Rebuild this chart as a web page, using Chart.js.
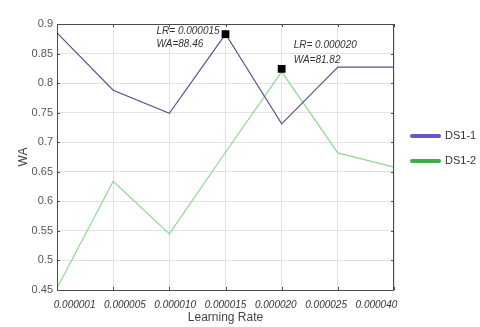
<!DOCTYPE html>
<html>
<head>
<meta charset="utf-8">
<script src="https://cdn.jsdelivr.net/npm/chart.js@4/dist/chart.umd.min.js"></script>
<style>
  html, body { margin: 0; padding: 0; background: #fff; }
  #wrap { width: 480px; height: 327px; }
</style>
</head>
<body>
<div id="wrap"><canvas id="waChart" width="480" height="327"></canvas></div>
<script>
// learning rates on the x axis
const lrLabels = ['0.000001', '0.000005', '0.000010', '0.000015', '0.000020', '0.000025', '0.000040'];
// weighted accuracy per run
const ds1_1 = [0.885, 0.788, 0.749, 0.883, 0.731, 0.827, 0.827];
const ds1_2 = [0.453, 0.634, 0.545, 0.683, 0.819, 0.682, 0.658];
// best points (black squares) and their notes
const bestPoints = [null, null, null, 0.883, 0.824, null, null];
const bestNotes = [null, null, null, ['LR= 0.000015', 'WA=88.46'], ['LR= 0.000020', 'WA=81.82'], null, null];
// y tick labels
const waTicks = [0.45, 0.5, 0.55, 0.6, 0.65, 0.7, 0.75, 0.8, 0.85, 0.9];

const FONT = "'Liberation Sans', Arial, sans-serif";

// box round the plot with small inward ticks on every side
const boxPlugin = {
    id: 'box',
    afterDatasetsDraw(chart) {
        const { ctx, chartArea: a, scales } = chart;
        ctx.save();
        ctx.strokeStyle = '#4a4a4a';
        ctx.lineWidth = 1;
        ctx.strokeRect(a.left + 0.5, a.top + 0.5, a.right - a.left - 1, a.bottom - a.top);
        ctx.beginPath();
        scales.x.ticks.forEach((t, i) => {
            const px = Math.round(scales.x.getPixelForTick(i)) + 0.5;
            ctx.moveTo(px, a.top); ctx.lineTo(px, a.top + 3);
            ctx.moveTo(px, a.bottom); ctx.lineTo(px, a.bottom - 3);
        });
        scales.y.ticks.forEach((t, i) => {
            const py = Math.round(scales.y.getPixelForTick(i)) + 0.5;
            ctx.moveTo(a.left, py); ctx.lineTo(a.left + 3, py);
            ctx.moveTo(a.right, py); ctx.lineTo(a.right - 3, py);
        });
        ctx.stroke();
        ctx.restore();
    }
};

// notes next to the best points
const notesPlugin = {
    id: 'notes',
    afterDatasetsDraw(chart) {
        const { ctx } = chart;
        const meta = chart.getDatasetMeta(0);
        ctx.save();
        ctx.font = 'italic 10px ' + FONT;
        ctx.fillStyle = '#333';
        ctx.textBaseline = 'middle';
        ctx.textAlign = 'left';
        bestNotes.forEach((note, i) => {
            if (!note) return;
            const p = meta.data[i];
            if (i === 3) {
                ctx.fillText(note[0], p.x - 69, p.y - 3);
                ctx.fillText(note[1], p.x - 69, p.y + 10);
            } else {
                ctx.fillText(note[0], p.x + 12, p.y - 24);
                ctx.fillText(note[1], p.x + 12, p.y - 9);
            }
        });
        ctx.restore();
    }
};

// legend on the right side
const legendPlugin = {
    id: 'sideLegend',
    afterDraw(chart) {
        const { ctx, chartArea: a } = chart;
        ctx.save();
        ctx.font = '11px ' + FONT;
        ctx.textBaseline = 'middle';
        let y = 136;
        chart.data.datasets.forEach(ds => {
            if (!ds.legendColor) return;
            ctx.strokeStyle = ds.legendColor;
            ctx.lineWidth = 4;
            ctx.lineCap = 'round';
            ctx.beginPath();
            ctx.moveTo(a.right + 18, y);
            ctx.lineTo(a.right + 45, y);
            ctx.stroke();
            ctx.fillStyle = '#333';
            ctx.fillText(ds.label, a.right + 51, y);
            y += 25;
        });
        ctx.restore();
    }
};

new Chart(document.getElementById('waChart'), {
    type: 'line',
    data: {
        labels: lrLabels,
        datasets: [
            {
                label: 'best',
                data: bestPoints,
                showLine: false,
                pointStyle: 'rect',
                pointRadius: 5.5,
                pointBackgroundColor: '#000',
                pointBorderColor: '#000',
                borderWidth: 0,
                order: 0
            },
            {
                label: 'DS1-1',
                data: ds1_1,
                borderColor: '#56528f',
                legendColor: '#6a55c9',
                borderWidth: 1.2,
                pointRadius: 0,
                tension: 0,
                order: 1
            },
            {
                label: 'DS1-2',
                data: ds1_2,
                borderColor: '#8fd98f',
                legendColor: '#3cae4b',
                borderWidth: 1.2,
                pointRadius: 0,
                tension: 0,
                order: 2
            }
        ]
    },
    options: {
        responsive: false,
        animation: false,
        layout: { padding: { top: 24, right: 86, left: 0, bottom: 0 } },
        plugins: {
            legend: { display: false },
            tooltip: { enabled: false }
        },
        scales: {
            x: {
                grid: { color: '#e2e2e2', drawTicks: false },
                border: { display: false },
                ticks: { display: false },
                afterFit(scale) { scale.height = 0; }
            },
            // label-only axis: the original spreads its tick labels a bit wider than the grid
            xLabels: {
                type: 'linear',
                position: 'bottom',
                min: -0.35,
                max: 6.35,
                afterBuildTicks(scale) { scale.ticks = lrLabels.map((l, i) => ({ value: i })); },
                grid: { display: false, drawTicks: false },
                border: { display: false },
                ticks: {
                    padding: 9,
                    maxRotation: 0,
                    autoSkip: false,
                    color: '#333',
                    font: { family: FONT, size: 10, style: 'italic' },
                    callback: v => lrLabels[v]
                },
                title: {
                    display: true,
                    text: 'Learning Rate',
                    color: '#444',
                    font: { family: FONT, size: 12 },
                    padding: { top: 0, bottom: 2 }
                },
                afterFit(scale) { scale.height = 37; }
            },
            y: {
                min: 0.45,
                max: 0.9,
                afterBuildTicks(scale) { scale.ticks = waTicks.map(v => ({ value: v })); },
                grid: { color: '#e2e2e2', drawTicks: false },
                border: { display: false },
                ticks: {
                    padding: 4,
                    color: '#555',
                    font: { family: FONT, size: 11 },
                    callback: v => String(+v.toFixed(2))
                },
                title: {
                    display: true,
                    text: 'WA',
                    color: '#444',
                    font: { family: FONT, size: 12 },
                    padding: { top: 16, bottom: 0 }
                },
                afterFit(scale) { scale.width = 57; }
            }
        }
    },
    plugins: [boxPlugin, notesPlugin, legendPlugin]
});
</script>
</body>
</html>
